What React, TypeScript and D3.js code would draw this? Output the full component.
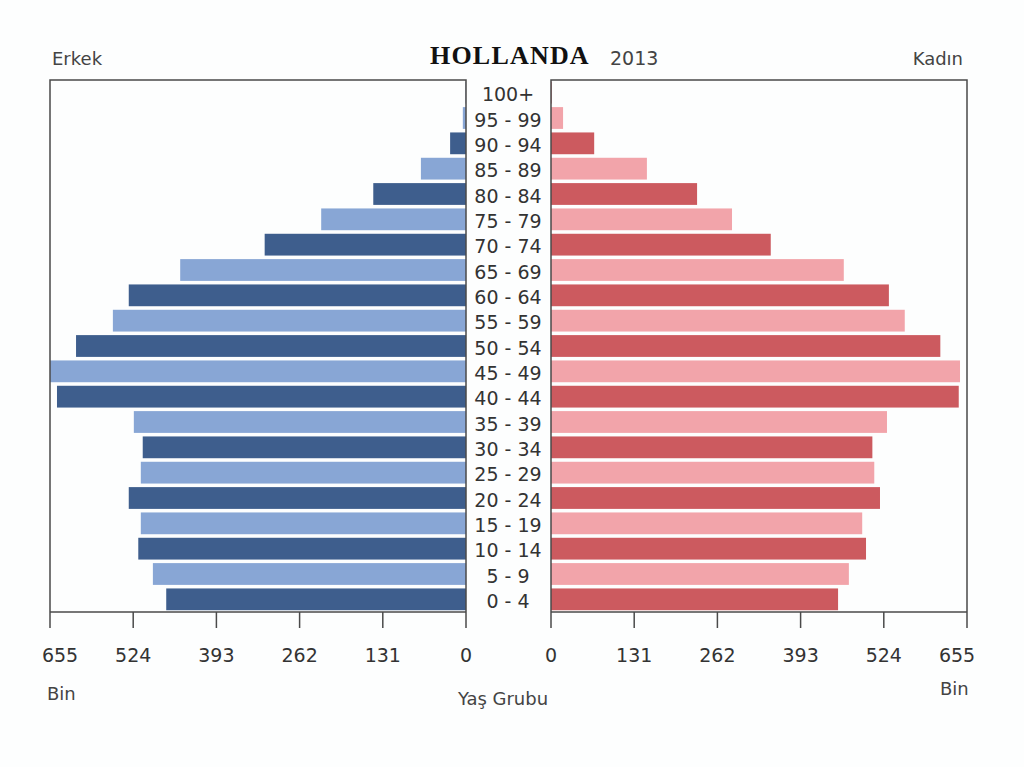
import React from 'react';
import * as d3 from 'd3';

const WIDTH = 1024;
const HEIGHT = 767;

const ageGroups = [
    '0 - 4', '5 - 9', '10 - 14', '15 - 19', '20 - 24', '25 - 29', '30 - 34',
    '35 - 39', '40 - 44', '45 - 49', '50 - 54', '55 - 59', '60 - 64', '65 - 69',
    '70 - 74', '75 - 79', '80 - 84', '85 - 89', '90 - 94', '95 - 99', '100+',
];

// thousands (Bin)
const maleValues = [
    472, 493, 516, 512, 531, 512, 509, 523, 644, 655, 614,
    556, 531, 450, 317, 228, 146, 71, 25, 5, 0.5,
];
const femaleValues = [
    452, 469, 496, 490, 518, 509, 506, 529, 642, 644, 613,
    557, 532, 461, 346, 285, 230, 151, 68, 19, 1,
];

const ticks = [0, 131, 262, 393, 524, 655];

const MALE_DARK = '#3e5e8d';
const MALE_LIGHT = '#88a6d5';
const FEMALE_DARK = '#cc5a5f';
const FEMALE_LIGHT = '#f2a4aa';
const FRAME = '#4a4a4a';
const TEXT = '#333';
const FONT = '"DejaVu Sans", sans-serif';

const PANEL_TOP = 80;
const PANEL_BOTTOM = 612;

export default function App() {
    const xLeft = d3.scaleLinear().domain([0, 655]).range([466, 50]);
    const xRight = d3.scaleLinear().domain([0, 655]).range([551, 967]);
    const y = d3.scaleBand<string>()
        .domain([...ageGroups].reverse())
        .range([PANEL_TOP, PANEL_BOTTOM])
        .paddingInner(0.14)
        .paddingOuter(0.07);

    const frame = (x0: number, x1: number) => (
        <path
            d={`M${x0},${PANEL_BOTTOM}V${PANEL_TOP}H${x1}V${PANEL_BOTTOM}`}
            fill="none"
            stroke={FRAME}
            strokeWidth={1.5}
        />
    );

    // outermost tick label is nudged inward, as in the original
    const axis = (scale: d3.ScaleLinear<number, number>, dir: number) => (
        <g>
            <line x1={scale(0)} x2={scale(655)} y1={PANEL_BOTTOM} y2={PANEL_BOTTOM}
                  stroke={FRAME} strokeWidth={1.5}/>
            {ticks.map(t => (
                <g key={t} transform={`translate(${scale(t)},0)`}>
                    <line y1={PANEL_BOTTOM} y2={PANEL_BOTTOM + 16} stroke={FRAME} strokeWidth={1.5}/>
                    <text x={t === 655 ? -dir * 10 : 0} y={662} textAnchor="middle"
                          fontSize={19} fill={TEXT}>{t}</text>
                </g>
            ))}
        </g>
    );

    return (
        <div style={{position: 'absolute', left: 0, top: 0}}>
            <svg width={WIDTH} height={HEIGHT} style={{display: 'block', fontFamily: FONT}}>
                <rect width={WIDTH} height={HEIGHT} fill="#fdfefe"/>

                {ageGroups.map((g, i) => {
                    const v = maleValues[i];
                    return (
                        <rect key={'m' + g}
                              x={xLeft(v)} y={y(g)}
                              width={xLeft(0) - xLeft(v)} height={y.bandwidth()}
                              fill={i % 2 === 0 ? MALE_DARK : MALE_LIGHT}/>
                    );
                })}
                {ageGroups.map((g, i) => {
                    const v = femaleValues[i];
                    return (
                        <rect key={'f' + g}
                              x={xRight(0)} y={y(g)}
                              width={xRight(v) - xRight(0)} height={y.bandwidth()}
                              fill={i % 2 === 0 ? FEMALE_DARK : FEMALE_LIGHT}/>
                    );
                })}

                {frame(50, 466)}
                {frame(551, 967)}
                {axis(xLeft, -1)}
                {axis(xRight, 1)}

                {ageGroups.map(g => (
                    <text key={'l' + g} x={508} y={(y(g) ?? 0) + y.bandwidth() / 2}
                          dy="0.45em" textAnchor="middle" fontSize={19} fill={TEXT}>
                        {g}
                    </text>
                ))}

                <text x={52} y={65} fontSize={18} fill="#444">Erkek</text>
                <text x={963} y={65} fontSize={18} fill="#444" textAnchor="end">Kadın</text>
                <text x={430} y={64} fontSize={26} fontWeight="bold" letterSpacing={1.2}
                      fontFamily='"Liberation Serif", serif' fill="#111">HOLLANDA</text>
                <text x={610} y={65} fontSize={19} fill="#444">2013</text>

                <text x={47} y={700} fontSize={18} fill="#444">Bin</text>
                <text x={940} y={695} fontSize={18} fill="#444">Bin</text>
                <text x={503} y={705} fontSize={18} fill="#444" textAnchor="middle">Yaş Grubu</text>
            </svg>
        </div>
    );
}
